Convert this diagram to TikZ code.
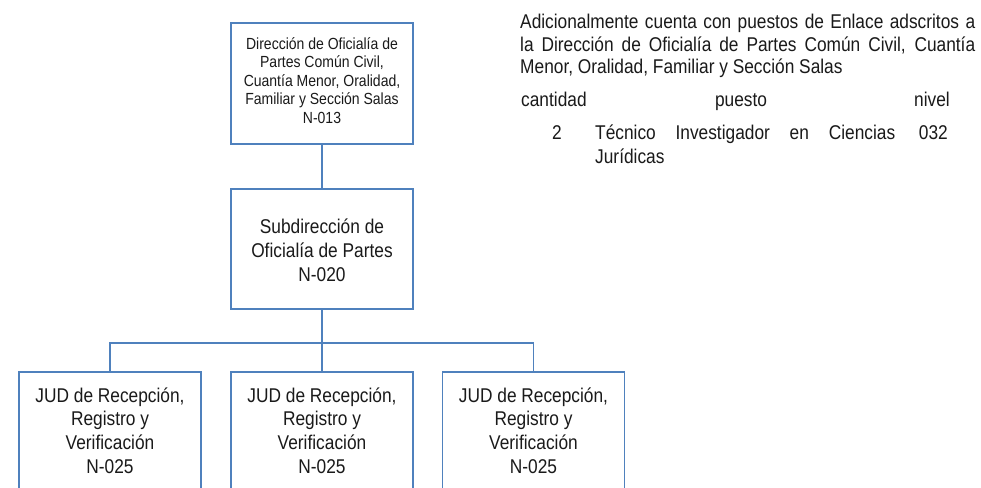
\documentclass[tikz,border=0pt]{standalone}
\usepackage{fontspec}
\setmainfont{Liberation Sans}[FakeStretch=0.87]
\definecolor{boxblue}{HTML}{4F81BD}
\definecolor{txt}{HTML}{1A1A1A}
\begin{document}
\begin{tikzpicture}[x=1pt,y=-1pt,
  orgbox/.style={draw=boxblue, line width=1.7pt, fill=white, rectangle, inner sep=0pt},
  boxtext/.style={align=center, inner sep=0pt, text=txt},
  conn/.style={draw=boxblue, line width=1.7pt},
  note/.style={inner sep=0pt, text=txt, font=\fontsize{19.9}{22}\selectfont}
]
\useasboundingbox (0,0) rectangle (981,487);
\clip (0,0) rectangle (981,487);
\fill[white] (0,0) rectangle (981,487);

% top box
\node[orgbox, minimum width=182pt, minimum height=121pt] (dir) at (322,83.5) {};
\node[boxtext, font=\fontsize{16.1}{18.4}\selectfont] (dirt) at (322,80.5) {Dirección de Oficialía de\\Partes Común Civil,\\Cuantía Menor, Oralidad,\\Familiar y Sección Salas\\N-013};

% second box
\node[orgbox, minimum width=182pt, minimum height=120pt] (sub) at (322,249) {};
\node[boxtext, font=\fontsize{19.9}{24.2}\selectfont] (subt) at (322,250.5) {Subdirección de\\Oficialía de Partes\\N-020};

% bottom boxes
\node[orgbox, anchor=north, minimum width=182pt, minimum height=160pt] (j1) at (110,371) {};
\node[orgbox, anchor=north, minimum width=182pt, minimum height=160pt] (j2) at (322,371) {};
\node[orgbox, anchor=north, minimum width=182pt, minimum height=160pt] (j3) at (533.5,371) {};
\foreach \n/\x in {j1/110,j2/322,j3/533.5}{
  \node[boxtext, font=\fontsize{19.9}{23.7}\selectfont] (\n t) at (\x,430.5) {JUD de Recepción,\\Registro y\\Verificación\\N-025};
}

% connectors
\draw[conn] (dir.south) -- (sub.north);
\draw[conn] (sub.south) -- ++(0,33) coordinate (bus);
\draw[conn] (j1.north) |- (bus) -| (j3.north);
\draw[conn] (bus) -- (j2.north);

% note text
\node[note, anchor=base west] (n1) at (520,29) {\makebox[455pt][s]{Adicionalmente cuenta con puestos de Enlace adscritos a}};
\node[note, anchor=base west] (n2) at (520,51.5) {\makebox[455pt][s]{la Dirección de Oficialía de Partes Común Civil, Cuantía}};
\node[note, anchor=base west] (n3) at (520,73) {Menor, Oralidad, Familiar y Sección Salas};
\node[note, anchor=base west] (h1) at (521,106) {cantidad};
\node[note, anchor=base] (h2) at (741,106) {puesto};
\node[note, anchor=base east] (h3) at (950,106) {nivel};
\node[note, anchor=base] (r1) at (557,139) {2};
\node[note, anchor=base west] (r2) at (595,139) {\makebox[300pt][s]{Técnico Investigador en Ciencias}};
\node[note, anchor=base east] (r3) at (948,139) {032};
\node[note, anchor=base west] (r4) at (595,163) {Jurídicas};
\end{tikzpicture}
\end{document}
